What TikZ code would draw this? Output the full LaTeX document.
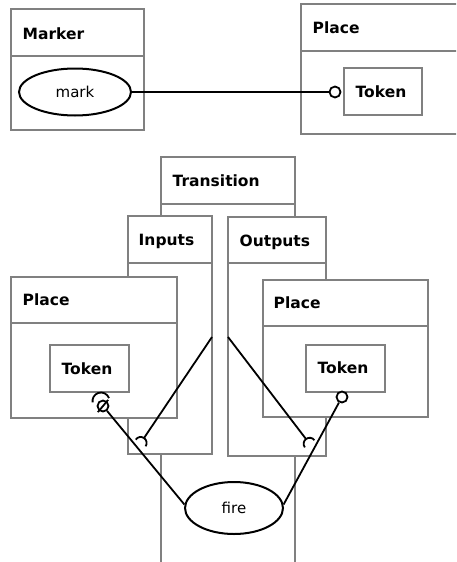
\documentclass[tikz,border=0pt]{standalone}
\usepackage{fontspec}
\setmainfont{DejaVu Sans}
\usetikzlibrary{calc,shapes.geometric}
\definecolor{boxgray}{RGB}{128,128,128}

% required-interface socket: half circle at the tip, convex side towards the tail
\newcommand\socketend[3]{%
  \draw[conn] let \p1=($(#1)-(#2)$), \n1={atan2(\y1,\x1)} in
    ($(#1)!-#3!(#2)$) ++(\n1+90:#3) arc[start angle=\n1+90, end angle=\n1+270, radius=#3];}

\begin{document}
\begin{tikzpicture}[x=1pt,y=-1pt,
  box/.style={draw=boxgray, line width=2pt, fill=white, rectangle, anchor=north west,
              inner sep=0pt, outer sep=0pt},
  divider/.style={draw=boxgray, line width=2pt},
  title/.style={anchor=base west, inner sep=0pt, font=\bfseries\fontsize{15.5}{18}\selectfont},
  oval/.style={draw, ellipse, line width=2pt, fill=white, inner sep=0pt,
               font=\fontsize{15}{18}\selectfont},
  conn/.style={line width=1.8pt, black},
  ball/.style={draw, circle, line width=1.8pt, minimum size=11pt, inner sep=0pt, fill=white}]

\useasboundingbox (0,0) rectangle (456,562);
\clip (0,0) rectangle (456,562);

% ---- Marker and its place ----
\node[box, minimum width=133pt, minimum height=121pt] (marker) at (11,9) {};
\draw[divider] ($(marker.north west)+(0,47)$) -- ($(marker.north east)+(0,47)$);
\node[title] (markerT) at (22.5,39) {Marker};
\node[oval, minimum width=112pt, minimum height=47pt] (mark) at (75,92) {mark};

\node[box, minimum width=169pt, minimum height=130pt] (placeT) at (301,4) {};
\draw[divider] ($(placeT.north west)+(0,47)$) -- ($(placeT.north east)+(0,47)$);
\node[title] (placeTT) at (312.5,33) {Place};
\node[box, minimum width=78pt, minimum height=47pt] (tokenT) at (344,68) {};
\node[title] (tokenTT) at (355.5,97) {Token};

\node[ball] (ballT) at (335,92) {};
\draw[conn] (mark.east) -- (ballT);

% ---- Transition with its inputs and outputs ----
\node[box, minimum width=134pt, minimum height=410pt] (trans) at (161,157) {};
\draw[divider] ($(trans.north west)+(0,47)$) -- ($(trans.north east)+(0,47)$);
\node[title] (transT) at (172.5,186) {Transition};

\node[box, minimum width=84pt, minimum height=238pt] (inputs) at (128,216) {};
\draw[divider] ($(inputs.north west)+(0,47)$) -- ($(inputs.north east)+(0,47)$);
\node[title] (inputsT) at (138.5,245) {Inputs};

\node[box, minimum width=98pt, minimum height=239pt] (outputs) at (228,217) {};
\draw[divider] ($(outputs.north west)+(0,46)$) -- ($(outputs.north east)+(0,46)$);
\node[title] (outputsT) at (239.5,246) {Outputs};

\node[box, minimum width=166pt, minimum height=141pt] (placeL) at (11,277) {};
\draw[divider] ($(placeL.north west)+(0,46)$) -- ($(placeL.north east)+(0,46)$);
\node[title] (placeLT) at (22.5,305) {Place};
\node[box, minimum width=79pt, minimum height=47pt] (tokenL) at (50,345) {};
\node[title] (tokenLT) at (61.5,374) {Token};

\node[box, minimum width=165pt, minimum height=137pt] (placeR) at (263,280) {};
\draw[divider] ($(placeR.north west)+(0,46)$) -- ($(placeR.north east)+(0,46)$);
\node[title] (placeRT) at (273.5,308) {Place};
\node[box, minimum width=79pt, minimum height=47pt] (tokenR) at (306,345) {};
\node[title] (tokenRT) at (317.5,373) {Token};

\node[oval, minimum width=98pt, minimum height=52pt] (fire) at (234,508) {fire};

% ---- connectors ----
\coordinate (inTail) at (212,337);
\coordinate (outTail) at (228,337);
\coordinate (sockL) at (144,438);
\coordinate (sockR) at (306,439);

\draw[conn] (inTail) -- (sockL);
\socketend{sockL}{inTail}{6pt}
\draw[conn] (outTail) -- (sockR);
\socketend{sockR}{outTail}{6pt}

\node[ball] (ballL) at (103,406) {};
\node[ball] (ballR) at (342,397) {};
\draw[conn] (fire.176) -- (ballL);
\draw[conn] (fire.4) -- (ballR);
% socket cup over the left ball, and the slash through it
\coordinate (cupL) at (101,401);
\draw[conn] ([shift={(20:8.5pt)}]cupL) arc[start angle=20, end angle=190, radius=8.5pt];
\draw[conn] ([shift={(230:8pt)}]ballL.center) -- ([shift={(50:8pt)}]ballL.center);
\end{tikzpicture}
\end{document}
